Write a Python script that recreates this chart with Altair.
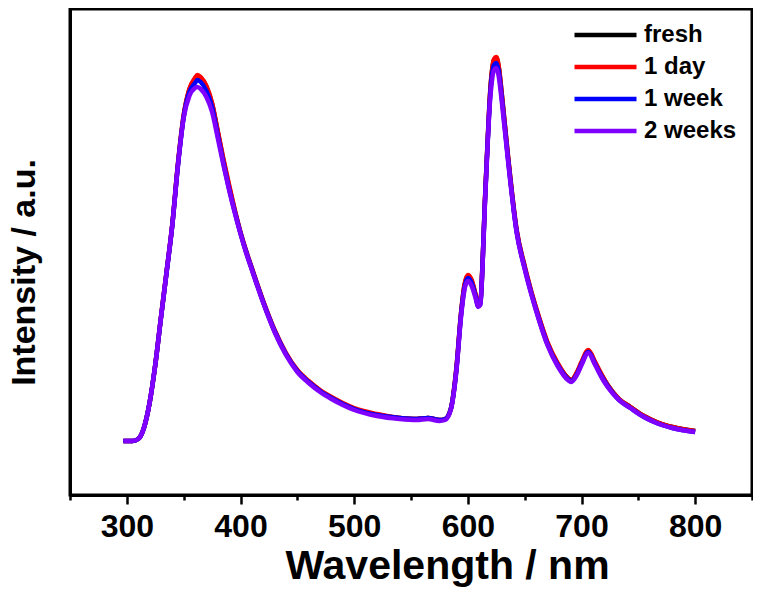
import altair as alt
import pandas as pd

wavelength = [297, 300, 305, 310, 315, 320, 325, 330, 335, 340, 345, 350, 355, 360, 362, 365, 370, 375, 380, 385,
              390, 395, 400, 405, 410, 420, 430, 440, 450, 460, 470, 480, 490, 500, 520, 540, 555, 565, 575, 580,
              585, 590, 594, 597, 600, 603, 607, 609, 611, 613, 615, 617, 619, 621, 623, 625, 627, 630, 635, 643,
              650, 656, 662, 670, 679, 688, 691, 696, 700, 706, 712, 718, 723, 733, 743, 755, 766, 780, 800]

fresh = [54, 54, 54, 56, 67, 92, 130, 177, 223, 270, 331, 379, 405, 416, 419, 417, 408, 391, 363, 334,
         308, 284, 262, 243, 226, 193, 164, 141, 124, 113, 104, 97, 91, 86, 80, 77, 76, 77, 75, 76,
         86, 127, 181, 209, 219, 215, 199, 190, 192, 233, 293, 343, 390, 421, 435, 437, 429, 399, 342, 264,
         228, 202, 179, 152, 131, 117, 115, 122, 132, 144, 132, 119, 110, 96, 88, 79, 73, 68, 64]

day1 = [54, 54, 54, 56, 67, 92, 130, 178, 224, 271, 332, 380, 406, 417, 420, 418, 409, 392, 364, 336,
        310, 285, 263, 244, 227, 194, 165, 142, 125, 114, 105, 98, 92, 87, 81, 77, 76, 77, 75, 76,
        86, 128, 182, 210, 220, 216, 200, 191, 193, 234, 294, 344, 392, 422, 436, 438, 430, 400, 343, 265,
        229, 203, 180, 153, 132, 117, 115, 123, 133, 145, 133, 120, 110, 96, 88, 79, 73, 68, 64]

week1 = [54, 54, 54, 56, 67, 92, 130, 177, 223, 270, 330, 378, 403, 412, 415, 413, 404, 388, 360, 332,
         306, 283, 262, 243, 226, 193, 164, 141, 124, 113, 104, 97, 91, 86, 80, 77, 76, 77, 75, 76,
         86, 126, 180, 207, 217, 213, 198, 189, 191, 232, 292, 342, 388, 418, 430, 432, 425, 396, 340, 263,
         227, 201, 178, 151, 130, 116, 114, 121, 131, 143, 131, 118, 109, 95, 87, 78, 72, 67, 63]

weeks2 = [54, 54, 54, 56, 67, 92, 130, 177, 223, 270, 330, 377, 399, 407, 408, 406, 398, 383, 357, 330,
          305, 282, 261, 242, 225, 192, 163, 140, 123, 112, 103, 96, 90, 85, 79, 76, 75, 76, 74, 75,
          85, 125, 178, 205, 214, 210, 196, 188, 190, 230, 290, 340, 385, 412, 425, 427, 420, 392, 338, 262,
          226, 200, 177, 150, 129, 115, 113, 120, 130, 142, 130, 117, 108, 95, 87, 78, 72, 67, 63]

series_names = ["fresh", "1 day", "1 week", "2 weeks"]
series_colors = ["#000000", "#ff0000", "#0000ff", "#7f00ff"]
x_tick_values = [250, 300, 350, 400, 450, 500, 550, 600, 650, 700, 750, 800, 850]

rows = []
for name, vals in zip(series_names, [fresh, day1, week1, weeks2]):
    for w, v in zip(wavelength, vals):
        rows.append({"wavelength": w, "intensity": v, "series": name})
df = pd.DataFrame(rows)

FONT = "Liberation Sans"

x_enc = alt.X(
    "wavelength:Q",
    scale=alt.Scale(domain=[250, 850], nice=False, zero=False),
    axis=alt.Axis(
        values=x_tick_values,
        title="Wavelength / nm",
        grid=False,
        labelExpr="datum.value % 100 === 0 ? datum.label : ''",
        tickSize={"condition": {"test": "datum.value % 100 === 0", "value": 9}, "value": 5},
        tickWidth=2.5, tickColor="black",
        domainColor="black", domainWidth=3,
        labelFont=FONT, labelFontSize=32, labelFontWeight="bold", labelColor="black",
        labelPadding=7, labelFlush=False,
        titleFont=FONT, titleFontSize=41, titleFontWeight="bold", titleColor="black",
        titleX=377, titleY=83, titleBaseline="alphabetic", titleAlign="center",
    ),
)

y_enc = alt.Y(
    "intensity:Q",
    scale=alt.Scale(domain=[0, 486], nice=False, zero=False),
    axis=alt.Axis(
        title="Intensity / a.u.",
        labels=False, ticks=False, grid=False,
        domainColor="black", domainWidth=3,
        titleFont=FONT, titleFontSize=34, titleFontWeight="bold", titleColor="black",
        titleX=-36, titleY=263, titleBaseline="alphabetic", titleAlign="center",
    ),
)

color_enc = alt.Color(
    "series:N",
    scale=alt.Scale(domain=series_names, range=series_colors),
    legend=alt.Legend(
        title=None, orient="none", legendX=502, legendY=10,
        symbolType="stroke", symbolSize=3844, symbolStrokeWidth=4.5,
        clipHeight=32, rowPadding=0, padding=0,
        labelFont=FONT, labelFontSize=24, labelFontWeight="bold", labelColor="black",
        labelOffset=5,
    ),
)

base = alt.Chart(df).mark_line(strokeWidth=4.5, interpolate="monotone").encode(
    x=x_enc, y=y_enc, color=color_enc
)

layers = [base.transform_filter(alt.datum.series == n) for n in series_names]

chart = alt.layer(*layers).properties(
    width=682, height=486,
    autosize=alt.AutoSizeParams(type="none"),
    padding={"left": 62, "top": 1, "right": 1, "bottom": 92},
).configure_view(stroke="black", strokeWidth=3)

chart.save("out.html", embed_options={"renderer": "svg", "actions": False})
